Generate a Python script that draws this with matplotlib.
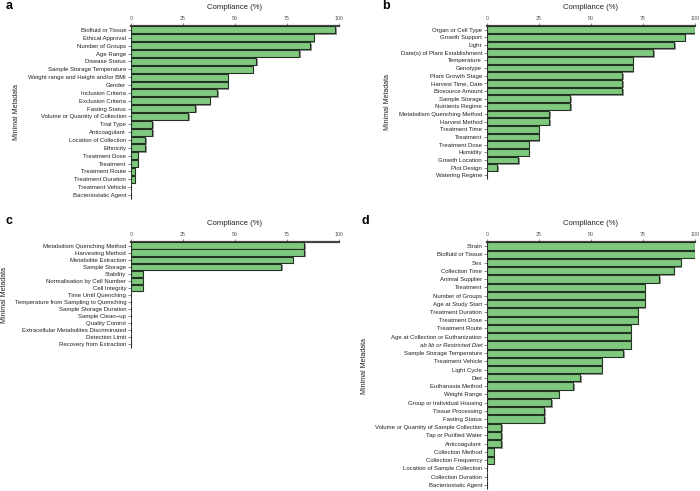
import matplotlib
matplotlib.use("Agg")
import matplotlib.pyplot as plt
import matplotlib.patheffects as pe

plt.rcParams['font.family'] = ['Liberation Sans', 'DejaVu Sans']

# ---- data ----
a_labels = ["Biofluid or Tissue", "Ethical Approval", "Number of Groups", "Age Range",
            "Disease Status", "Sample Storage Temperature", "Weight range and Height and/or BMI",
            "Gender", "Inclusion Criteria", "Exclusion Criteria", "Fasting Status",
            "Volume or Quantity of Collection", "Trial Type", "Anticoagulant",
            "Location of Collection", "Ethnicity", "Treatment Dose", "Treatment",
            "Treatment Route", "Treatment Duration", "Treatment Vehicle", "Bacteriostatic Agent"]
a_values = [98.3, 87.9, 86.2, 81.0, 60.3, 58.6, 46.6, 46.6, 41.4, 37.9, 31.0,
            27.6, 10.3, 10.3, 6.9, 6.9, 3.4, 3.4, 1.7, 1.7, 0, 0]

b_labels = ["Organ or Cell Type", "Growth Support", "Light", "Date(s) of Plant Establishment",
            "Temperature", "Genotype", "Plant Growth Stage", "Harvest Time, Date",
            "Biosource Amount", "Sample Storage", "Nutrients Regime",
            "Metabolism Quenching Method", "Harvest Method", "Treatment Time", "Treatment",
            "Treatment Dose", "Humidity", "Growth Location", "Plot Design", "Watering Regime"]
b_values = [100, 95, 90, 80, 70, 70, 65, 65, 65, 40, 40, 30, 30, 25, 25, 20, 20, 15, 5, 0]

c_labels = ["Metabolism Quenching Method", "Harvesting Method", "Metabolite Extraction",
            "Sample Storage", "Stability", "Normalisation by Cell Number", "Cell Integrity",
            "Time Until Quenching", "Temperature from Sampling to Quenching",
            "Sample Storage Duration", "Sample Clean\u2212up", "Quality Control",
            "Extracellular Metabolites Discriminated", "Detection Limit",
            "Recovery from Extraction"]
c_values = [83.3, 83.3, 77.8, 72.2, 5.6, 5.6, 5.6, 0, 0, 0, 0, 0, 0, 0, 0]

d_labels = ["Strain", "Biofluid or Tissue", "Sex", "Collection Time", "Animal Supplier",
            "Treatment", "Number of Groups", "Age at Study Start", "Treatment Duration",
            "Treatment Dose", "Treatment Route", "Age at Collection or Euthanization",
            "ab lib or Restricted Diet", "Sample Storage Temperature", "Treatment Vehicle",
            "Light Cycle", "Diet", "Euthanasia Method", "Weight Range",
            "Group or Individual Housing", "Tissue Processing", "Fasting Status",
            "Volume or Quantity of Sample Collection", "Tap or Purified Water", "Anticoagulant",
            "Collection Method", "Collection Frequency", "Location of Sample Collection",
            "Collection Duration", "Bacteriostatic Agent"]
d_values = [100, 100, 93.1, 89.7, 82.8, 75.9, 75.9, 75.9, 72.4, 72.4, 69.0, 69.0, 69.0,
            65.5, 55.2, 55.2, 44.8, 41.4, 34.5, 31.0, 27.6, 27.6, 6.9, 6.9, 6.9, 3.4, 3.4,
            0, 0, 0]

xticks = [0, 25, 50, 75, 100]
italic_labels = ["ab lib or Restricted Diet"]

W, H = 700, 491
fig = plt.figure(figsize=(7.0, 4.91), dpi=100)

def rect(l, r, t, b):
    return [l / W, 1 - b / H, (r - l) / W, (b - t) / H]

panels = [
    ("a", a_labels, a_values, rect(131, 339, 26, 199), -0.534, (6, 6)),
    ("b", b_labels, b_values, rect(487, 695, 26, 179), -0.462, (382, 6)),
    ("c", c_labels, c_values, rect(131, 339, 242, 348), -0.591, (6, 221)),
    ("d", d_labels, d_values, rect(487, 695, 242, 489), -0.572, (362, 221)),
]

shadow = [pe.SimplePatchShadow(offset=(1.0, -1.0), shadow_rgbFace='#8a8a8a', alpha=0.9),
          pe.Normal()]

for letter, labels, values, pos, ylab_x, lpos in panels:
    ax = fig.add_axes(pos)
    n = len(labels)
    ys = list(range(n))
    bars = ax.barh(ys, values, height=0.88, color='#7FC97F', edgecolor='#223322',
                   linewidth=0.8, zorder=3)
    for bb in bars:
        bb.set_path_effects(shadow)
    ax.set_ylim(n - 0.5, -0.5)
    ax.set_xlim(0, 100)
    ax.set_yticks(ys)
    ax.set_yticklabels(labels, fontsize=4.3)
    for t in ax.get_yticklabels():
        if t.get_text() in italic_labels:
            t.set_style('italic')
    ax.xaxis.tick_top()
    ax.xaxis.set_label_position('top')
    ax.set_xticks(xticks)
    ax.set_xticklabels([str(v) for v in xticks], fontsize=3.8, color='#333333')
    ax.tick_params(axis='x', length=2, width=0.5, pad=1.5, colors='#555555')
    ax.tick_params(axis='y', length=2, width=0.5, pad=1.5, colors='#555555',
                   labelcolor='#222222')
    ax.set_xlabel("Compliance (%)", fontsize=5.6, labelpad=5, color='#222222')
    ax.set_ylabel("Minimal Metadata", fontsize=5, color='#222222')
    ax.yaxis.set_label_coords(ylab_x, 0.5)
    for s in ['right', 'bottom']:
        ax.spines[s].set_visible(False)
    ax.spines['top'].set_linewidth(1.6)
    ax.spines['top'].set_color('#444444')
    ax.spines['left'].set_linewidth(0.6)
    ax.spines['left'].set_color('#666666')
    fig.text(lpos[0] / W, 1 - lpos[1] / H, letter, fontsize=9, fontweight='bold',
             ha='left', va='center')

fig.savefig("out.png", dpi=100)
